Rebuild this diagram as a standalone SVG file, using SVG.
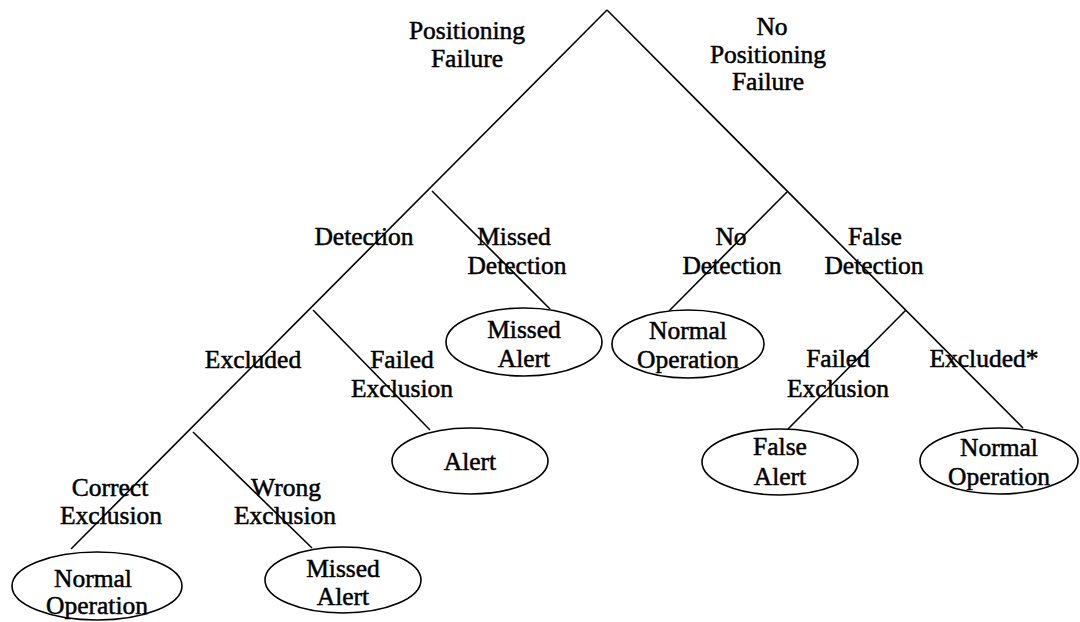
<svg xmlns="http://www.w3.org/2000/svg" width="1080" height="622" viewBox="0 0 1080 622">
<style>
  .edge { stroke:#000; stroke-width:1.6; fill:none; }
  .node { stroke:#000; stroke-width:1.6; fill:#fff; }
  text { font-family:"Liberation Serif","Times New Roman",serif; font-size:25.5px; fill:#000; text-anchor:middle; stroke:#000; stroke-width:0.5; }
</style>
<rect width="1080" height="622" fill="#fff"/>
<g id="connectors">
  <line class="edge" x1="607" y1="10" x2="71" y2="549"/>
  <line class="edge" x1="607" y1="10" x2="1023" y2="428"/>
  <line class="edge" x1="432" y1="191" x2="550" y2="309"/>
  <line class="edge" x1="787" y1="192" x2="669" y2="311"/>
  <line class="edge" x1="313" y1="310" x2="430" y2="430"/>
  <line class="edge" x1="906" y1="310" x2="788" y2="429"/>
  <line class="edge" x1="193" y1="432" x2="312" y2="548"/>
</g>
<g id="edge-labels">
  <text x="467" y="39">Positioning</text>
  <text x="467" y="67">Failure</text>
  <text x="772" y="35">No</text>
  <text x="768" y="63">Positioning</text>
  <text x="768" y="90">Failure</text>
  <text x="364" y="245">Detection</text>
  <text x="514" y="245">Missed</text>
  <text x="517" y="274">Detection</text>
  <text x="731" y="245">No</text>
  <text x="732" y="274">Detection</text>
  <text x="875" y="245">False</text>
  <text x="874" y="274">Detection</text>
  <text x="253" y="368">Excluded</text>
  <text x="402" y="368">Failed</text>
  <text x="402" y="397">Exclusion</text>
  <text x="838" y="367">Failed</text>
  <text x="838" y="397">Exclusion</text>
  <text x="984" y="367">Excluded*</text>
  <text x="110" y="496">Correct</text>
  <text x="111" y="524">Exclusion</text>
  <text x="286" y="496">Wrong</text>
  <text x="285" y="524">Exclusion</text>
</g>
<g id="node-missed-alert-1">
  <ellipse class="node" cx="524" cy="342" rx="78" ry="34"/>
  <text x="524" y="338">Missed</text>
  <text x="524" y="367">Alert</text>
</g>
<g id="node-normal-operation-1">
  <ellipse class="node" cx="688" cy="344" rx="76" ry="34"/>
  <text x="688" y="339">Normal</text>
  <text x="688" y="368">Operation</text>
</g>
<g id="node-alert">
  <ellipse class="node" cx="470" cy="461" rx="78" ry="33"/>
  <text x="470" y="470">Alert</text>
</g>
<g id="node-false-alert">
  <ellipse class="node" cx="780" cy="462" rx="78" ry="33"/>
  <text x="780" y="455">False</text>
  <text x="780" y="485">Alert</text>
</g>
<g id="node-normal-operation-2">
  <ellipse class="node" cx="999" cy="461" rx="79" ry="33"/>
  <text x="999" y="456">Normal</text>
  <text x="999" y="485">Operation</text>
</g>
<g id="node-normal-operation-3">
  <ellipse class="node" cx="97" cy="586" rx="85" ry="34"/>
  <text x="93" y="587">Normal</text>
  <text x="97" y="614">Operation</text>
</g>
<g id="node-missed-alert-2">
  <ellipse class="node" cx="343" cy="580" rx="78" ry="33"/>
  <text x="343" y="577">Missed</text>
  <text x="343" y="605">Alert</text>
</g>
</svg>
